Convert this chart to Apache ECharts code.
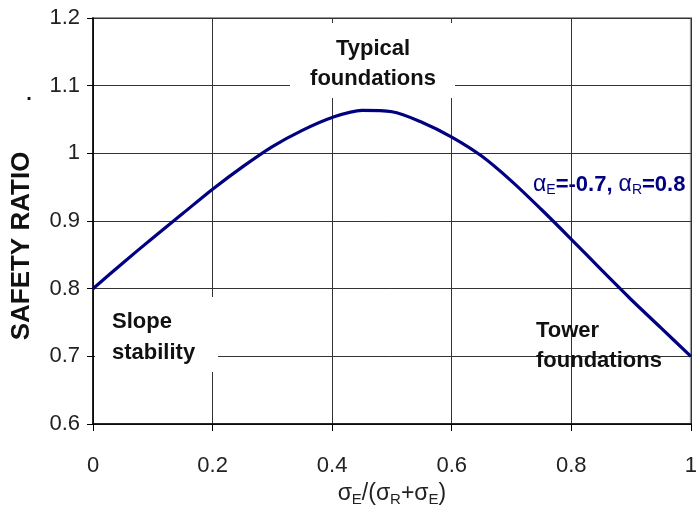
<!DOCTYPE html>
<html>
<head>
<meta charset="utf-8">
<script src="https://cdn.jsdelivr.net/npm/echarts@6/dist/echarts.min.js"></script>
<style>
html,body{margin:0;padding:0;background:#fff;}
#chart{width:700px;height:513px;}
</style>
</head>
<body>
<div id="chart"></div>
<script>
// ---- data ----
const xValues = [0, 0.05, 0.1, 0.15, 0.2, 0.25, 0.3, 0.35, 0.4, 0.45, 0.5, 0.55, 0.6, 0.65, 0.7, 0.75, 0.8, 0.85, 0.9, 0.95, 1];
const safetyRatio = [0.800, 0.838, 0.875, 0.911, 0.947, 0.980, 1.010, 1.034, 1.053, 1.0635, 1.0615, 1.046, 1.024, 0.996, 0.959, 0.917, 0.873, 0.828, 0.784, 0.742, 0.700];
const xTickLabels = ['0', '0.2', '0.4', '0.6', '0.8', '1'];
const yTickLabels = ['0.6', '0.7', '0.8', '0.9', '1', '1.1', '1.2'];
const seriesName = 'αE=-0.7, αR=0.8';

const chart = echarts.init(document.getElementById('chart'), null, {renderer: 'canvas'});
const FONT = 'Liberation Sans, Arial, sans-serif';

const data = xValues.map((x, i) => [x, safetyRatio[i]]);

const option = {
  backgroundColor: '#fff',
  animation: false,
  grid: {left: 93, right: 3, top: 18, bottom: 89, show: true, borderColor: '#999', borderWidth: 2, backgroundColor: 'transparent'},
  xAxis: {
    type: 'value', min: 0, max: 1, interval: 0.2,
    axisLine: {show: true, onZero: false, lineStyle: {color: '#000', width: 1.5}},
    axisTick: {show: true, length: 7, lineStyle: {color: '#000'}},
    axisLabel: {
      margin: 31, fontSize: 22, color: '#222', fontFamily: FONT,
      formatter: v => xTickLabels[Math.round(v / 0.2)]
    },
    splitLine: {show: true, lineStyle: {color: '#333', width: 1}},
    name: '{s|σ}{sub|E}{s|/(σ}{sub|R}{s|+σ}{sub|E}{s|)}',
    nameLocation: 'middle', nameGap: 57,
    nameTextStyle: {
      rich: {
        s: {fontSize: 23, color: '#222', fontFamily: FONT},
        sub: {fontSize: 15, color: '#222', fontFamily: FONT, padding: [11, 0, 0, 0]}
      }
    }
  },
  yAxis: {
    type: 'value', min: 0.6, max: 1.2, interval: 0.1,
    axisLine: {show: true, lineStyle: {color: '#000', width: 1.5}},
    axisTick: {show: true, length: 6, lineStyle: {color: '#000'}},
    axisLabel: {
      margin: 13, fontSize: 22, color: '#222', fontFamily: FONT,
      formatter: v => yTickLabels[Math.round((v - 0.6) / 0.1)]
    },
    splitLine: {show: true, lineStyle: {color: '#333', width: 1}}
  },
  series: [{
    name: seriesName,
    type: 'line',
    data: data,
    smooth: 0.3,
    showSymbol: false,
    lineStyle: {color: '#000080', width: 3.2},
    itemStyle: {color: '#000080'},
    z: 5
  }],
  graphic: [
    // white boxes behind annotations
    {type: 'rect', z: 50, shape: {x: 290, y: 23, width: 165, height: 75}, style: {fill: '#fff'}},
    {type: 'rect', z: 50, shape: {x: 95, y: 297, width: 123, height: 75}, style: {fill: '#fff'}},
    {type: 'text', z: 60, style: {text: 'Typical\nfoundations', x: 373, y: 64, align: 'center', verticalAlign: 'middle', font: 'bold 22px ' + FONT, fill: '#111', lineHeight: 30}},
    {type: 'text', z: 60, style: {text: 'Slope\nstability', x: 112, y: 337, align: 'left', verticalAlign: 'middle', font: 'bold 22px ' + FONT, fill: '#111', lineHeight: 31}},
    {type: 'text', z: 60, style: {text: 'Tower\nfoundations', x: 536, y: 346, align: 'left', verticalAlign: 'middle', font: 'bold 22px ' + FONT, fill: '#111', lineHeight: 30}},
    {type: 'text', z: 60, style: {
      text: '{a|α}{sub|E}{b|=-0.7, }{a|α}{sub|R}{b|=0.8}',
      x: 533, y: 185, align: 'left', verticalAlign: 'middle',
      rich: {
        a: {fontSize: 23, fontFamily: FONT, fill: '#000080', fontWeight: 'normal'},
        b: {fontSize: 22, fontFamily: FONT, fill: '#000080', fontWeight: 'bold'},
        sub: {fontSize: 14, fontFamily: FONT, fill: '#000080', fontWeight: 'normal', padding: [10, 0, 0, 0]}
      }
    }},
    {type: 'text', z: 60, style: {text: 'SAFETY RATIO', x: 22, y: 246, align: 'center', verticalAlign: 'middle', font: 'bold 26px ' + FONT, fill: '#111'}, rotation: Math.PI / 2, x: 0, y: 0, originX: 22, originY: 246},
    {type: 'text', z: 60, style: {text: '.', x: 29, y: 94, align: 'center', verticalAlign: 'middle', font: 'bold 20px ' + FONT, fill: '#111'}}
  ]
};
chart.setOption(option);
</script>
</body>
</html>
